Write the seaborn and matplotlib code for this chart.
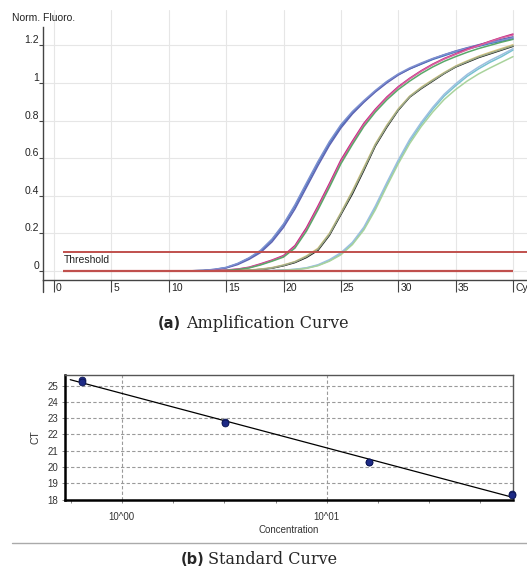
import numpy as np
import pandas as pd
import matplotlib
matplotlib.use("Agg")
import matplotlib.pyplot as plt
import matplotlib.transforms as mtransforms
from matplotlib.lines import Line2D
from matplotlib.ticker import NullFormatter
import seaborn as sns

# ---------------- data: amplification curves ----------------
cycles = list(range(1, 41))

blue_1 = [0, 0, 0, 0, 0, 0, 0, 0, 0, 0, 0,
          0.001, 0.003, 0.008, 0.018, 0.038, 0.068, 0.105, 0.165, 0.245, 0.345,
          0.46, 0.575, 0.68, 0.77, 0.84, 0.9, 0.955, 1.005, 1.045, 1.075,
          1.1, 1.125, 1.145, 1.165, 1.18, 1.195, 1.21, 1.222, 1.235]
blue_2 = [0, 0, 0, 0, 0, 0, 0, 0, 0, 0, 0,
          0.001, 0.002, 0.007, 0.016, 0.034, 0.062, 0.098, 0.155, 0.232, 0.33,
          0.445, 0.56, 0.668, 0.76, 0.835, 0.897, 0.952, 1.0, 1.042, 1.075,
          1.102, 1.128, 1.15, 1.17, 1.187, 1.203, 1.218, 1.232, 1.245]
blue_3 = [0, 0, 0, 0, 0, 0, 0, 0, 0, 0, 0,
          0.001, 0.003, 0.009, 0.019, 0.04, 0.07, 0.11, 0.17, 0.25, 0.352,
          0.468, 0.582, 0.688, 0.778, 0.848, 0.906, 0.96, 1.008, 1.048, 1.08,
          1.106, 1.13, 1.15, 1.168, 1.185, 1.2, 1.214, 1.227, 1.24]

mag_1 = [0, 0, 0, 0, 0, 0, 0, 0, 0, 0, 0, 0, 0,
         0.002, 0.005, 0.01, 0.02, 0.038, 0.058, 0.082, 0.135, 0.23, 0.345,
         0.465, 0.59, 0.69, 0.785, 0.86, 0.925, 0.98, 1.025, 1.065, 1.1,
         1.13, 1.155, 1.18, 1.2, 1.222, 1.242, 1.26]
mag_2 = [0, 0, 0, 0, 0, 0, 0, 0, 0, 0, 0, 0, 0,
         0.002, 0.004, 0.009, 0.018, 0.035, 0.055, 0.078, 0.128, 0.22, 0.335,
         0.455, 0.58, 0.682, 0.778, 0.855, 0.92, 0.976, 1.022, 1.062, 1.097,
         1.127, 1.152, 1.176, 1.198, 1.22, 1.24, 1.255]
mag_3 = [0, 0, 0, 0, 0, 0, 0, 0, 0, 0, 0, 0, 0,
         0.001, 0.003, 0.008, 0.016, 0.032, 0.052, 0.074, 0.122, 0.212, 0.325,
         0.445, 0.57, 0.672, 0.768, 0.845, 0.91, 0.965, 1.01, 1.05, 1.085,
         1.115, 1.14, 1.163, 1.183, 1.2, 1.217, 1.232]

blk_1 = [0, 0, 0, 0, 0, 0, 0, 0, 0, 0, 0, 0, 0, 0, 0,
         0.002, 0.004, 0.008, 0.015, 0.028, 0.045, 0.072, 0.11, 0.19, 0.3,
         0.41, 0.535, 0.665, 0.765, 0.855, 0.925, 0.97, 1.01, 1.05, 1.085,
         1.11, 1.135, 1.155, 1.175, 1.195]
blk_2 = [0, 0, 0, 0, 0, 0, 0, 0, 0, 0, 0, 0, 0, 0, 0,
         0.002, 0.005, 0.01, 0.018, 0.032, 0.05, 0.08, 0.12, 0.2, 0.31,
         0.425, 0.55, 0.675, 0.775, 0.862, 0.93, 0.977, 1.017, 1.055, 1.09,
         1.117, 1.142, 1.163, 1.183, 1.203]
blk_3 = [0, 0, 0, 0, 0, 0, 0, 0, 0, 0, 0, 0, 0, 0, 0,
         0.001, 0.004, 0.008, 0.016, 0.03, 0.048, 0.076, 0.115, 0.195, 0.305,
         0.418, 0.542, 0.67, 0.77, 0.858, 0.927, 0.973, 1.013, 1.052, 1.087,
         1.113, 1.138, 1.158, 1.178, 1.198]

cyan_1 = [0, 0, 0, 0, 0, 0, 0, 0, 0, 0, 0, 0, 0, 0, 0, 0, 0, 0,
          0.002, 0.004, 0.008, 0.015, 0.03, 0.055, 0.09, 0.145, 0.225, 0.335,
          0.46, 0.58, 0.69, 0.78, 0.86, 0.93, 0.985, 1.035, 1.075, 1.11,
          1.14, 1.175]
cyan_2 = [0, 0, 0, 0, 0, 0, 0, 0, 0, 0, 0, 0, 0, 0, 0, 0, 0, 0,
          0.002, 0.005, 0.009, 0.017, 0.033, 0.06, 0.097, 0.152, 0.233, 0.345,
          0.47, 0.59, 0.7, 0.79, 0.87, 0.94, 0.995, 1.045, 1.085, 1.12,
          1.15, 1.182]
cyan_3 = [0, 0, 0, 0, 0, 0, 0, 0, 0, 0, 0, 0, 0, 0, 0, 0, 0, 0,
          0.001, 0.004, 0.007, 0.014, 0.028, 0.052, 0.086, 0.14, 0.218, 0.325,
          0.45, 0.57, 0.678, 0.768, 0.845, 0.912, 0.965, 1.01, 1.048, 1.08,
          1.11, 1.14]

curve_names = ["blue_1", "blue_2", "blue_3", "mag_1", "mag_2", "mag_3",
               "blk_1", "blk_2", "blk_3", "cyan_1", "cyan_2", "cyan_3"]
curve_values = [blue_1, blue_2, blue_3, mag_1, mag_2, mag_3,
                blk_1, blk_2, blk_3, cyan_1, cyan_2, cyan_3]
curve_colors = ["#3a78bd", "#5f63b3", "#7d8fd0", "#c42683", "#d8639f", "#5aa86a",
                "#101010", "#d6c27a", "#9aa98a", "#77c2d0", "#9cbfe0", "#a9d39c"]

threshold = 0.1
line_start = 0.8
baseline_end = 40

y_ticks = [0, 0.2, 0.4, 0.6, 0.8, 1.0, 1.2]
y_tick_labels = ["0", "0.2", "0.4", "0.6", "0.8", "1", "1.2"]
x_ticks = [0, 5, 10, 15, 20, 25, 30, 35, 40]
x_tick_labels = ["0", "5", "10", "15", "20", "25", "30", "35", "Cycle"]

# ---------------- data: standard curve ----------------
concentration = [0.64, 0.64, 3.2, 3.2, 16, 16, 80, 80]
ct_values = [25.38, 25.22, 22.78, 22.71, 20.33, 20.28, 18.36, 18.25]
ct_ticks = [18, 19, 20, 21, 22, 23, 24, 25]
conc_major = [1, 10]
conc_major_labels = ["10^00", "10^01"]

# ---------------- figure ----------------
sns.set_theme(style="white")
plt.rcParams["font.family"] = ["Liberation Sans", "DejaVu Sans"]

W, H = 527, 575
fig = plt.figure(figsize=(W / 100, H / 100), dpi=100)
fig.patch.set_facecolor("white")


def box(l, t, r, b):
    return [l / W, 1 - b / H, (r - l) / W, (b - t) / H]


# ---- top: amplification ----
ax1 = fig.add_axes(box(43, 10, 527, 280))
ax1.set_facecolor("white")

rows = []
for name, vals in zip(curve_names, curve_values):
    for c, v in zip(cycles, vals):
        rows.append((name, c, v))
df = pd.DataFrame(rows, columns=["Well", "Cycle", "Fluor"])

sns.lineplot(data=df, x="Cycle", y="Fluor", hue="Well", hue_order=curve_names,
             palette=dict(zip(curve_names, curve_colors)), legend=False,
             linewidth=1.1, estimator=None, ax=ax1, zorder=3)

ax1.hlines([threshold], line_start, 42, color="#c0504d", lw=1.4, zorder=5)
ax1.hlines([0], line_start, baseline_end, color="#c0504d", lw=1.6, zorder=5)
ax1.text(0.85, 0.033, "Threshold", fontsize=7.5, va="bottom", ha="left", color="#222")

ax1.set_xlim(-0.96, 41.22)
ax1.set_ylim(-0.048, 1.388)
ax1.set_xlabel("")
ax1.set_ylabel("")
ax1.set_xticks(x_ticks, x_tick_labels, ha="left")
ax1.set_yticks(y_ticks, y_tick_labels, va="bottom")
ax1.grid(True, color="#e6e6e6", lw=0.8)
ax1.set_axisbelow(True)
for s in ["top", "right"]:
    ax1.spines[s].set_visible(False)
for s in ["left", "bottom"]:
    ax1.spines[s].set_color("#444")
    ax1.spines[s].set_linewidth(1.0)
ax1.spines["left"].set_bounds(-0.048, 1.298)
ax1.tick_params(axis="x", direction="out", length=8.6, width=0.8, color="#444",
                pad=-6.5, labelsize=7.5, labelcolor="#222", bottom=True)
ax1.tick_params(axis="y", direction="out", length=2.9, width=0.8, color="#444",
                pad=0.0, labelsize=7.5, labelcolor="#222", left=True)
off = mtransforms.ScaledTranslation(2 / 100, 0, fig.dpi_scale_trans)
for lab in ax1.get_xticklabels():
    lab.set_transform(lab.get_transform() + off)
ax1.plot([0, 0], [0, -12 / 270], transform=ax1.transAxes, color="#444", lw=1.0,
         clip_on=False)

fig.text(12 / W, 1 - 18 / H, "Norm. Fluoro.", fontsize=7.5, va="center", ha="left",
         color="#222")

# caption a
fig.text(181 / W, 1 - 324 / H, "(a)", fontsize=10.5, fontweight="bold",
         family="DejaVu Sans", ha="right", va="center")
fig.text(186 / W, 1 - 324 / H, "Amplification Curve", fontsize=11.5,
         family="DejaVu Serif", ha="left", va="center")

# ---- bottom: standard curve ----
ax2 = fig.add_axes(box(65, 375, 513, 500))
ax2.set_facecolor("white")
ax2.set_xscale("log")

logc = np.log10(concentration)
slope, intercept = np.polyfit(logc, ct_values, 1)
fit_x = np.logspace(logc.min() - 0.058, logc.max(), 60)
fit_y = slope * np.log10(fit_x) + intercept
sns.lineplot(x=fit_x, y=fit_y, color="black", lw=0.9, ax=ax2, zorder=4)
sns.scatterplot(x=concentration, y=ct_values, ax=ax2, color="#1d2a86",
                edgecolor="#0c1552", linewidth=0.6, s=24, zorder=6, clip_on=False)

ax2.set_xlim(0.528, 81.1)
ax2.set_ylim(17.97, 25.66)
ax2.set_yticks(ct_ticks)
ax2.set_xticks(conc_major, conc_major_labels)
ax2.set_xticks([10 ** (k / 4) for k in [-1, 1, 2, 3, 5, 6, 7]], minor=True)
ax2.xaxis.set_minor_formatter(NullFormatter())
ax2.grid(True, which="major", ls=(0, (3, 2)), color="#9a9a9a", lw=0.8)
ax2.set_axisbelow(True)
ax2.tick_params(axis="both", which="both", direction="out", length=2.5, width=0.7,
                color="#888", labelsize=7, labelcolor="#333", bottom=True, left=True)
ax2.tick_params(axis="x", pad=6)
ax2.tick_params(axis="y", pad=2.2)
for s in ["left", "bottom"]:
    ax2.spines[s].set_color("black")
    ax2.spines[s].set_linewidth(1.8)
for s in ["top", "right"]:
    ax2.spines[s].set_color("#555")
    ax2.spines[s].set_linewidth(1.0)
ax2.set_ylabel("CT", fontsize=7.5, color="#333")
ax2.yaxis.set_label_coords(-0.0536, 0.5)
ax2.set_xlabel("Concentration", fontsize=7, color="#333")
ax2.xaxis.set_label_coords(0.5, -0.2)

fig.add_artist(Line2D([12 / W, 1], [1 - 543 / H, 1 - 543 / H], color="#aaaaaa", lw=1.0))

fig.text(204 / W, 1 - 560 / H, "(b)", fontsize=10.5, fontweight="bold",
         family="DejaVu Sans", ha="right", va="center")
fig.text(208 / W, 1 - 560 / H, "Standard Curve", fontsize=11.5,
         family="DejaVu Serif", ha="left", va="center")

fig.savefig("out.png", dpi=100, facecolor="white")
